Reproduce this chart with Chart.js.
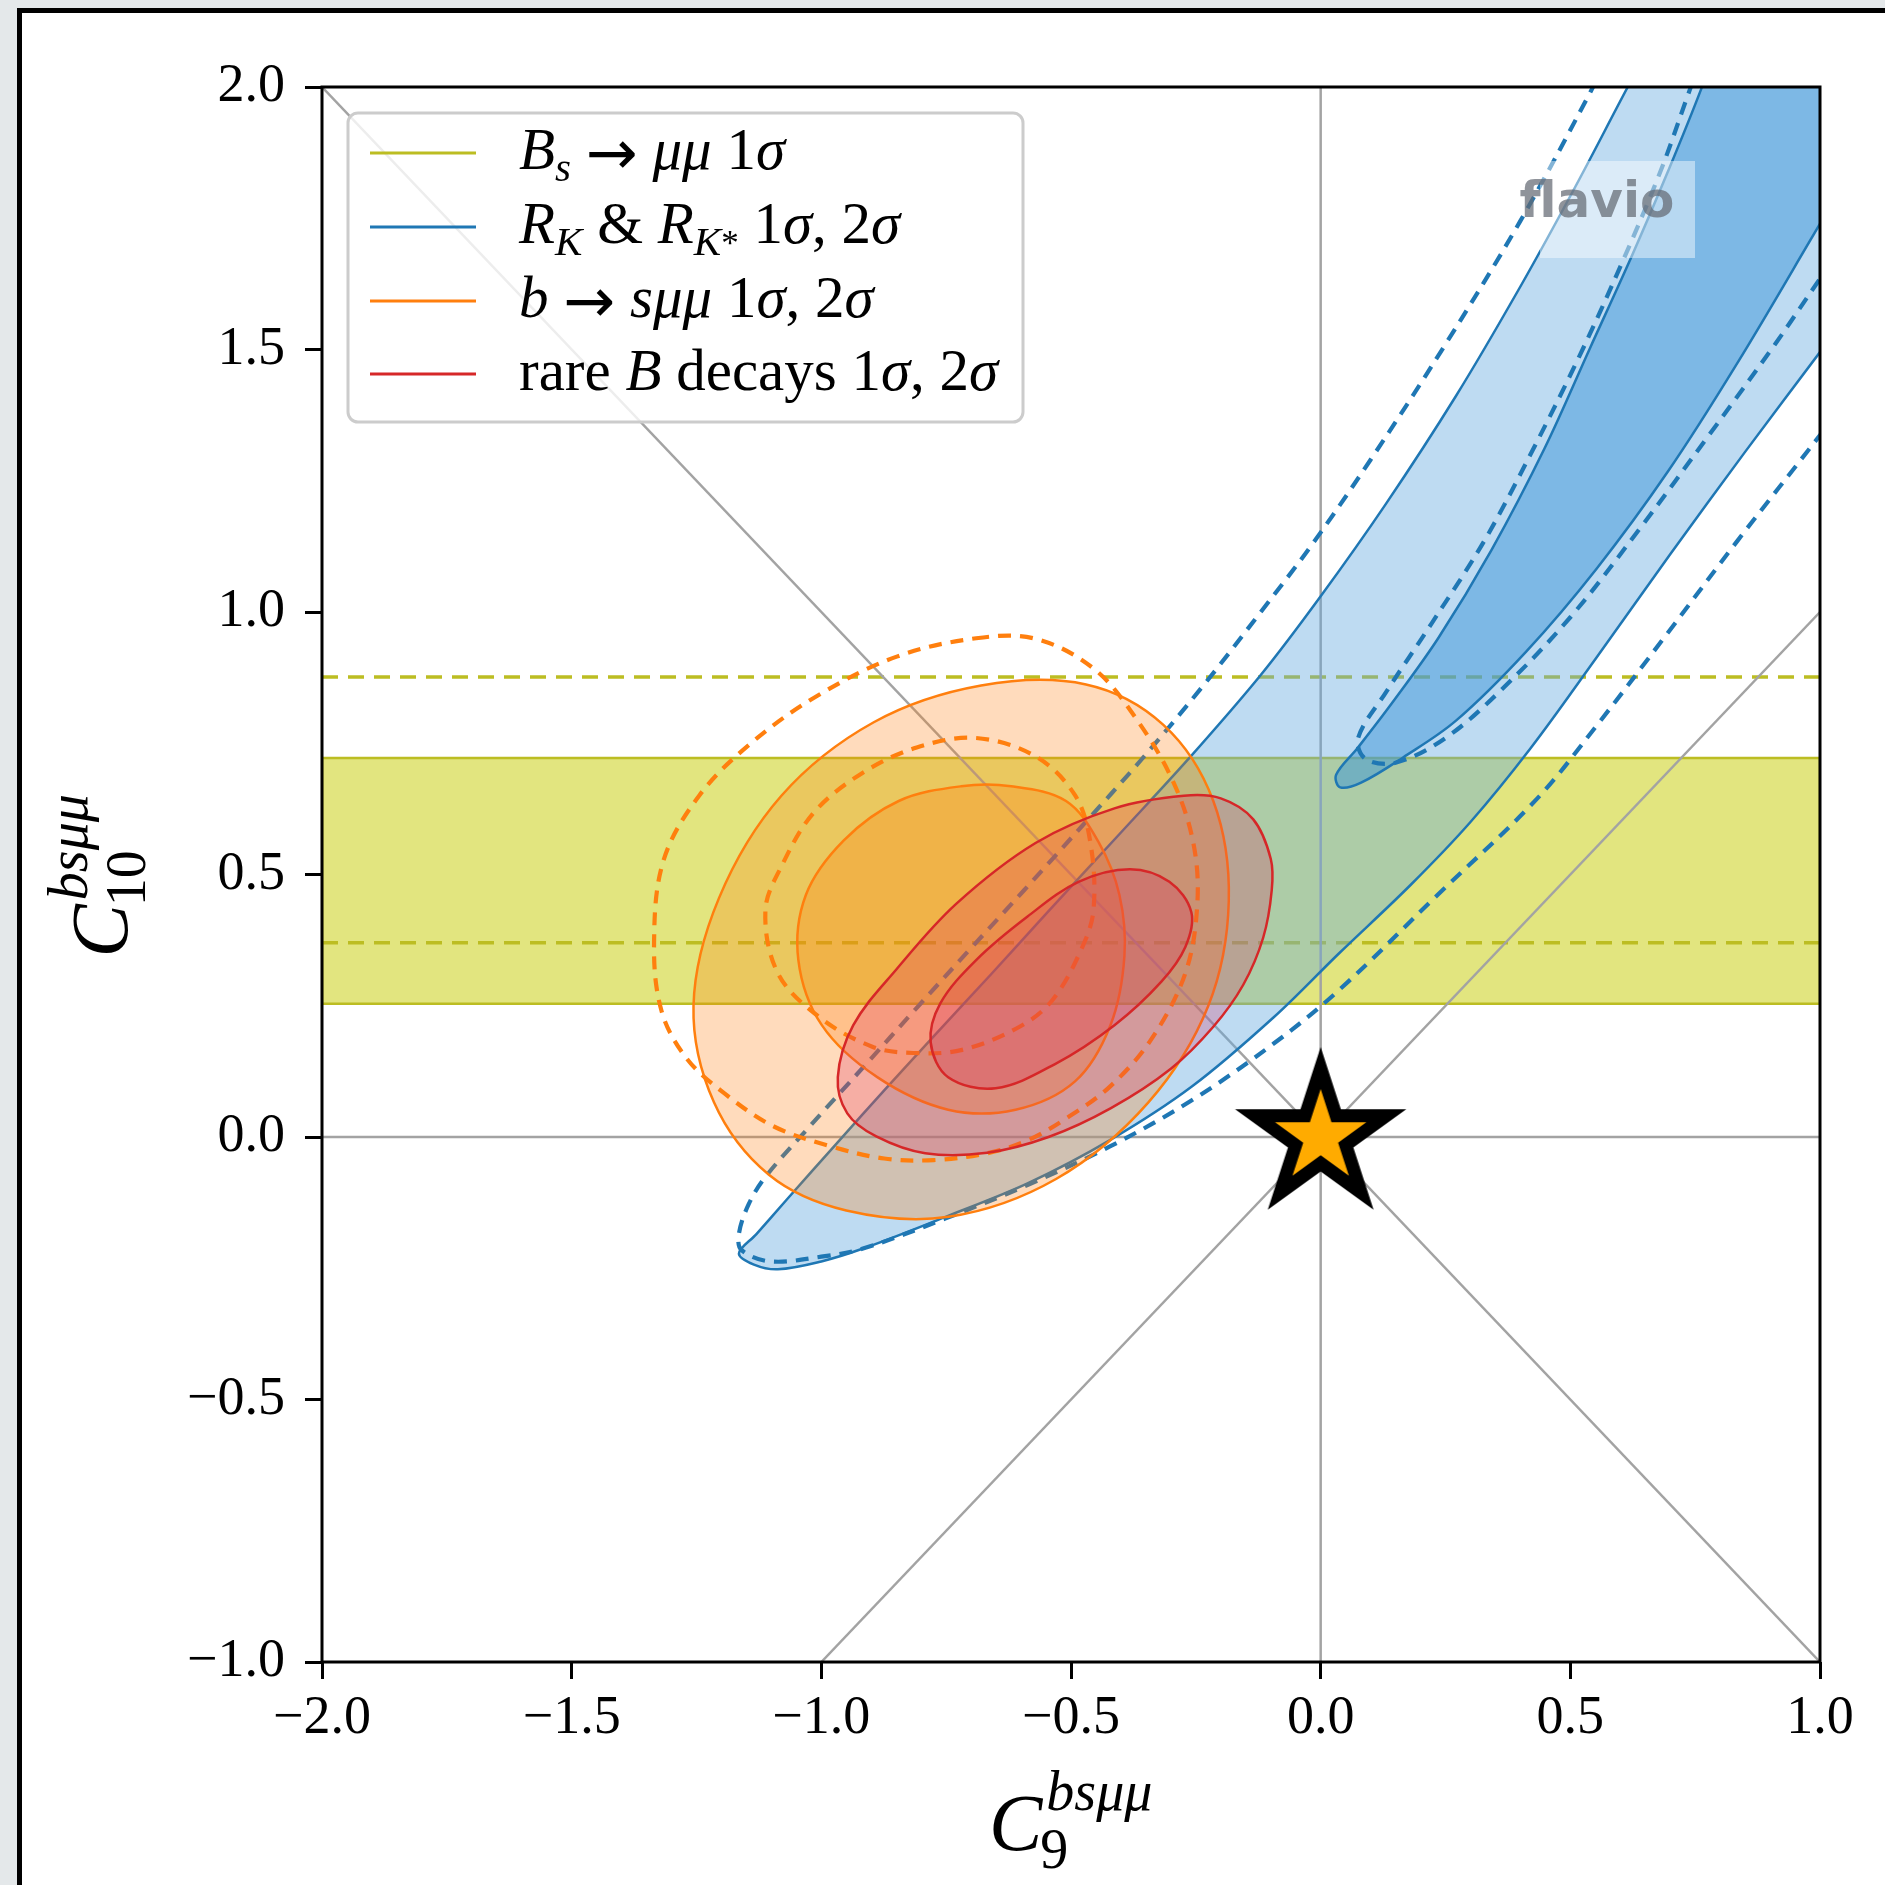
<!DOCTYPE html>
<html>
<head>
<meta charset="utf-8">
<script src="https://cdn.jsdelivr.net/npm/chart.js@4.4.1/dist/chart.umd.min.js"></script>
<style>
  html, body { margin: 0; padding: 0; background: #e4e8ea; overflow: hidden; }
  canvas { display: block; }
</style>
</head>
<body>
<canvas id="chart" width="1885" height="1885"></canvas>
<script>
// axis ticks
const xTicks = [-2, -1.5, -1, -0.5, 0, 0.5, 1];
const yTicks = [-1, -0.5, 0, 0.5, 1, 1.5, 2];

// Bs -> mumu : 1 sigma band (filled) and older band (dashed)
const bsmmBand = [0.254, 0.722];
const bsmmDashed = [0.370, 0.876];

// R_K & R_K* contours, [C9, C10]
const rk2Sigma = [
  [-1.165, -0.222], [-1.13, -0.185], [-1.07, -0.12], [-0.97, -0.013], [-0.87, 0.093],
  [-0.77, 0.197], [-0.66, 0.31], [-0.55, 0.425], [-0.40, 0.58], [-0.263, 0.722],
  [-0.12, 0.88], [0.0, 1.03], [0.13, 1.205], [0.27, 1.41], [0.40, 1.62],
  [0.51, 1.81], [0.615, 2.0], [0.70, 2.15], [1.3, 2.4], [1.1, 1.62],
  [1.0, 1.495], [0.85, 1.305], [0.70, 1.11], [0.55, 0.91], [0.42, 0.74],
  [0.30, 0.60], [0.18, 0.48], [0.037, 0.35], [-0.094, 0.228], [-0.258, 0.096],
  [-0.422, -0.006], [-0.586, -0.088], [-0.751, -0.152], [-0.915, -0.212], [-1.0, -0.237],
  [-1.087, -0.252], [-1.135, -0.243]
];
const rk1Sigma = [
  [0.039, 0.666], [0.031, 0.690], [0.074, 0.741], [0.144, 0.828], [0.236, 0.951],
  [0.342, 1.118], [0.448, 1.311], [0.540, 1.504], [0.624, 1.680], [0.695, 1.838],
  [0.762, 1.996], [0.84, 2.2], [1.35, 2.4], [1.1, 1.9], [1.001, 1.741],
  [0.835, 1.475], [0.695, 1.267], [0.553, 1.083], [0.412, 0.925], [0.271, 0.793],
  [0.165, 0.723], [0.081, 0.675]
];
const rkOld2Sigma = [
  [0.57, 2.05], [0.54, 1.99], [0.40, 1.745], [0.25, 1.51], [0.10, 1.29],
  [-0.02, 1.125], [-0.12, 1.0], [-0.235, 0.86], [-0.358, 0.72], [-0.48, 0.59],
  [-0.594, 0.47], [-0.70, 0.36], [-0.808, 0.247], [-0.915, 0.134], [-1.03, 0.013],
  [-1.112, -0.076], [-1.145, -0.127], [-1.165, -0.184], [-1.16, -0.215], [-1.103, -0.237],
  [-1.0, -0.228], [-0.915, -0.212], [-0.751, -0.155], [-0.586, -0.091], [-0.422, -0.018],
  [-0.258, 0.070], [-0.094, 0.178], [0.037, 0.280], [0.235, 0.462], [0.433, 0.644],
  [0.553, 0.784], [0.695, 0.960], [0.835, 1.136], [1.001, 1.338], [1.05, 1.40]
];
const rkOld1Sigma = [
  [0.76, 2.05], [0.733, 1.978], [0.68, 1.838], [0.602, 1.662], [0.518, 1.487],
  [0.426, 1.311], [0.328, 1.136], [0.222, 0.978], [0.13, 0.846], [0.075, 0.76],
  [0.09, 0.72], [0.15, 0.713], [0.25, 0.76], [0.36, 0.85], [0.5, 0.99],
  [0.64, 1.16], [0.78, 1.34], [0.91, 1.51], [1.001, 1.636], [1.05, 1.70]
];

// b -> s mumu contours
const bsmm2Sigma = [
  [-0.184, 0.450], [-0.215, 0.640], [-0.315, 0.785], [-0.47, 0.862], [-0.68, 0.860],
  [-0.895, 0.790], [-1.08, 0.650], [-1.205, 0.455], [-1.256, 0.250], [-1.215, 0.066],
  [-1.105, -0.072], [-0.95, -0.14], [-0.745, -0.152], [-0.53, -0.08], [-0.345, 0.066],
  [-0.225, 0.250]
];
const bsmm1Sigma = [
  [-0.62, 0.668], [-0.51, 0.640], [-0.445, 0.562], [-0.403, 0.461], [-0.393, 0.345],
  [-0.421, 0.213], [-0.492, 0.106], [-0.611, 0.052], [-0.746, 0.052], [-0.888, 0.114],
  [-0.999, 0.213], [-1.046, 0.337], [-1.031, 0.461], [-0.955, 0.565], [-0.845, 0.640],
  [-0.72, 0.668]
];
const bsmmOld2Sigma = [
  [-0.690, 0.950], [-0.571, 0.949], [-0.453, 0.891], [-0.366, 0.792], [-0.295, 0.676],
  [-0.255, 0.560], [-0.247, 0.444], [-0.271, 0.312], [-0.340, 0.185], [-0.422, 0.096],
  [-0.504, 0.039], [-0.586, -0.006], [-0.668, -0.031], [-0.775, -0.044], [-0.874, -0.041],
  [-0.980, -0.018], [-1.095, 0.020], [-1.194, 0.083], [-1.27, 0.15], [-1.32, 0.24],
  [-1.335, 0.370], [-1.316, 0.527], [-1.244, 0.651], [-1.141, 0.750], [-1.007, 0.841],
  [-0.849, 0.915]
];
const bsmmOld1Sigma = [
  [-0.690, 0.760], [-0.571, 0.725], [-0.492, 0.651], [-0.461, 0.560], [-0.455, 0.432],
  [-0.480, 0.356], [-0.537, 0.261], [-0.603, 0.210], [-0.718, 0.166], [-0.816, 0.160],
  [-0.898, 0.172], [-1.005, 0.229], [-1.087, 0.312], [-1.112, 0.432], [-1.078, 0.519],
  [-1.015, 0.618], [-0.920, 0.692], [-0.809, 0.742]
];

// all rare B decays combined
const rare2Sigma = [
  [-0.274, 0.650], [-0.20, 0.645], [-0.135, 0.605], [-0.10, 0.53], [-0.098, 0.47],
  [-0.115, 0.38], [-0.155, 0.29], [-0.215, 0.21], [-0.30, 0.13], [-0.42, 0.055],
  [-0.545, 0.0], [-0.668, -0.03], [-0.792, -0.031], [-0.890, 0.001], [-0.948, 0.045],
  [-0.967, 0.114], [-0.936, 0.213], [-0.849, 0.320], [-0.730, 0.444], [-0.571, 0.560],
  [-0.413, 0.626]
];
const rare1Sigma = [
  [-0.382, 0.510], [-0.303, 0.486], [-0.259, 0.428], [-0.271, 0.362], [-0.319, 0.296],
  [-0.413, 0.213], [-0.532, 0.139], [-0.651, 0.093], [-0.746, 0.114], [-0.781, 0.180],
  [-0.762, 0.254], [-0.690, 0.337], [-0.587, 0.420], [-0.485, 0.486]
];

// guide lines and SM point
const guideLines = [
  [[0, -1], [0, 2]],
  [[-2, 0], [1, 0]],
  [[-2, 2], [1, -1]],
  [[-1, -1], [1, 1]]
];
const smPoint = [0, 0];

const legendColors = ['#bcbd22', '#1f77b4', '#ff7f0e', '#d62728'];
const legendLabels = [
  [['B', 'i'], ['s', 'sub'], [' ', 'r'], ['\u2192', 'arr'], [' ', 'r'], ['\u03bc\u03bc', 'i'], [' 1', 'r'], ['\u03c3', 'i']],
  [['R', 'i'], ['K', 'sub'], [' & ', 'r'], ['R', 'i'], ['K', 'sub'], ['*', 'sup'], [' 1', 'r'], ['\u03c3', 'i'], [', 2', 'r'], ['\u03c3', 'i']],
  [['b', 'i'], [' ', 'r'], ['\u2192', 'arr'], [' ', 'r'], ['s\u03bc\u03bc', 'i'], [' 1', 'r'], ['\u03c3', 'i'], [', 2', 'r'], ['\u03c3', 'i']],
  [['rare ', 'r'], ['B', 'i'], [' decays 1', 'r'], ['\u03c3', 'i'], [', 2', 'r'], ['\u03c3', 'i']]
];

const SERIF = '"Liberation Serif"';
const pts = a => a.map(p => ({x: p[0], y: p[1]}));
const fmt = v => (v < 0 ? '\u2212' : '') + Math.abs(v).toFixed(1);

// star marker
const star = document.createElement('canvas');
star.width = star.height = 200;
(function () {
  const c = star.getContext('2d');
  const path = R => {
    c.beginPath();
    for (let i = 0; i < 10; i++) {
      const a = -Math.PI / 2 + i * Math.PI / 5;
      const r = i % 2 ? R * 0.382 : R;
      c.lineTo(100 + r * Math.cos(a), 100 + r * Math.sin(a));
    }
    c.closePath();
  };
  path(90); c.fillStyle = '#000'; c.fill();
  path(48); c.fillStyle = '#ffab00'; c.fill();
})();

function contour(data, color, fillColor, dashed, closed) {
  return {
    data: pts(data),
    borderColor: color,
    borderWidth: dashed ? 4.2 : 2.5,
    borderDash: dashed ? [13, 9] : [],
    backgroundColor: fillColor || 'transparent',
    fill: fillColor ? 'shape' : false,
    tension: 0.35,
    pointRadius: 0,
    closed: closed,
    clip: 0
  };
}

const datasets = [];
datasets.push({
  data: pts([[xTicks[0], bsmmBand[0]], [xTicks[6], bsmmBand[0]], [xTicks[6], bsmmBand[1]], [xTicks[0], bsmmBand[1]]]),
  borderColor: '#bcbd22', borderWidth: 2.5, backgroundColor: 'rgba(207,212,42,0.6)',
  fill: 'shape', tension: 0, pointRadius: 0, closed: true, clip: 0
});
bsmmDashed.forEach(v => datasets.push({
  data: pts([[xTicks[0], v], [xTicks[6], v]]),
  borderColor: '#bcbd22', borderWidth: 3.5, borderDash: [16, 10], fill: false, pointRadius: 0, clip: 0
}));
guideLines.forEach(l => datasets.push({
  data: pts(l), borderColor: '#a3a3a3', borderWidth: 2.5, fill: false, pointRadius: 0, tension: 0, clip: 0
}));
datasets.push(contour(rk2Sigma, '#1f77b4', 'rgba(100,170,225,0.42)', false, true));
datasets.push(contour(rk1Sigma, '#1f77b4', 'rgba(60,150,215,0.5)', false, true));
datasets.push(contour(rkOld2Sigma, '#1f77b4', null, true, false));
datasets.push(contour(rkOld1Sigma, '#1f77b4', null, true, false));
datasets.push(contour(bsmm2Sigma, '#ff7f0e', 'rgba(255,127,14,0.28)', false, true));
datasets.push(contour(bsmm1Sigma, '#ff7f0e', 'rgba(255,127,14,0.28)', false, true));
datasets.push(contour(bsmmOld2Sigma, '#ff7f0e', null, true, true));
datasets.push(contour(bsmmOld1Sigma, '#ff7f0e', null, true, true));
datasets.push(contour(rare2Sigma, '#d62728', 'rgba(220,40,90,0.25)', false, true));
datasets.push(contour(rare1Sigma, '#d62728', 'rgba(220,40,90,0.25)', false, true));
datasets.push({
  data: pts([smPoint]), showLine: false, pointStyle: star, pointRadius: 20, clip: false
});
// first in list = drawn first
datasets.forEach((d, i) => { d.order = datasets.length - i; });

// make closed contours real loops
const closeLoops = {
  id: 'closeLoops',
  afterDatasetUpdate(chart, args) {
    const ds = chart.data.datasets[args.index];
    const line = args.meta.dataset;
    if (ds.closed && line) {
      line._loop = true;
      line._fullLoop = true;
      line._pointsUpdated = false;
      delete line._segments;
      delete line._path;
    }
  }
};

const pageFrame = {
  id: 'pageFrame',
  beforeDraw(chart) {
    const {ctx, width, height} = chart;
    ctx.save();
    ctx.fillStyle = '#e4e8ea';
    ctx.fillRect(0, 0, width, height);
    ctx.fillStyle = '#ffffff';
    ctx.fillRect(22, 13, width - 22, height - 13);
    ctx.fillStyle = '#000000';
    ctx.fillRect(17, 8, 5, height - 8);
    ctx.fillRect(17, 8, width - 17, 5);
    ctx.restore();
  },
  afterDatasetsDraw(chart) {
    const {ctx, chartArea: a} = chart;
    ctx.save();
    ctx.strokeStyle = '#000';
    ctx.lineWidth = 3;
    ctx.strokeRect(a.left, a.top, a.right - a.left, a.bottom - a.top);
    ctx.restore();
  }
};

function drawRuns(ctx, runs, x, y, size) {
  const st = {
    r: [`${size}px ${SERIF}`, 0],
    i: [`italic ${size}px ${SERIF}`, 0],
    sub: [`italic ${Math.round(size * 0.7)}px ${SERIF}`, size * 0.2],
    sup: [`${Math.round(size * 0.6)}px ${SERIF}`, size * 0.2],
    arr: [`${Math.round(size * 1.05)}px "DejaVu Sans"`, size * 0.08]
  };
  for (const [t, s] of runs) {
    ctx.font = st[s][0];
    ctx.fillText(t, x, y + st[s][1]);
    x += ctx.measureText(t).width;
  }
  return x;
}

function drawAxisLabel(ctx, sub) {
  // C_sub^{bs mu mu}, drawn from (0,0) on baseline
  ctx.font = `italic 80px ${SERIF}`;
  ctx.fillText('C', 0, 0);
  const w = ctx.measureText('C').width;
  ctx.font = `italic 56px ${SERIF}`;
  ctx.fillText('bs\u03bc\u03bc', w + 4, -40);
  const ws = ctx.measureText('bs\u03bc\u03bc').width;
  ctx.font = `56px ${SERIF}`;
  ctx.fillText(sub, w - 2, 18);
  return w + 4 + ws;
}

const overlay = {
  id: 'overlay',
  afterDraw(chart) {
    const {ctx, chartArea: a} = chart;
    ctx.save();
    // legend box
    const bx = 348, by = 113, bw = 675, bh = 309;
    ctx.beginPath();
    ctx.roundRect(bx, by, bw, bh, 10);
    ctx.fillStyle = 'rgba(255,255,255,0.8)';
    ctx.fill();
    ctx.strokeStyle = '#cccccc';
    ctx.lineWidth = 3;
    ctx.stroke();
    const rows = [153, 227, 301, 374];
    legendLabels.forEach((runs, i) => {
      ctx.strokeStyle = legendColors[i];
      ctx.lineWidth = 3;
      ctx.beginPath();
      ctx.moveTo(370, rows[i]);
      ctx.lineTo(476, rows[i]);
      ctx.stroke();
      ctx.fillStyle = '#000';
      ctx.textBaseline = 'alphabetic';
      ctx.textAlign = 'left';
      drawRuns(ctx, runs, 519, rows[i] + 16, 59);
    });

    // flavio watermark
    ctx.fillStyle = 'rgba(255,255,255,0.45)';
    ctx.fillRect(1540, 161, 155, 97);
    ctx.font = 'bold 50px "DejaVu Sans"';
    ctx.textAlign = 'center';
    ctx.fillStyle = 'rgba(100,105,115,0.72)';
    ctx.fillText('flavio', 1597, 217);

    // axis titles
    ctx.fillStyle = '#000';
    ctx.textAlign = 'left';
    const cx = (a.left + a.right) / 2;
    ctx.save();
    ctx.translate(cx - 82, 1850);
    drawAxisLabel(ctx, '9');
    ctx.restore();
    const cy = (a.top + a.bottom) / 2;
    ctx.save();
    ctx.translate(127, cy + 83);
    ctx.rotate(-Math.PI / 2);
    drawAxisLabel(ctx, '10');
    ctx.restore();
    ctx.restore();
  }
};

const tickFont = {family: 'Liberation Serif', size: 54};

new Chart(document.getElementById('chart').getContext('2d'), {
  type: 'line',
  data: {datasets: datasets},
  options: {
    responsive: false,
    devicePixelRatio: 1,
    animation: false,
    events: [],
    layout: {padding: {left: 0, top: 87, right: 65, bottom: 0}},
    elements: {line: {capBezierPoints: false}},
    plugins: {legend: {display: false}, tooltip: {enabled: false}},
    scales: {
      x: {
        type: 'linear', min: -2, max: 1,
        afterBuildTicks: s => { s.ticks = xTicks.map(v => ({value: v})); },
        afterFit: s => { s.height = 223; },
        ticks: {callback: fmt, font: tickFont, color: '#000', padding: 7, maxRotation: 0, autoSkip: false},
        grid: {display: true, drawOnChartArea: false, drawTicks: true, tickLength: 17, tickWidth: 3, tickColor: '#000'},
        border: {display: false}
      },
      y: {
        type: 'linear', min: -1, max: 2,
        afterBuildTicks: s => { s.ticks = yTicks.map(v => ({value: v})); },
        afterFit: s => { s.width = 322; },
        ticks: {callback: fmt, font: tickFont, color: '#000', padding: 20, autoSkip: false},
        grid: {display: true, drawOnChartArea: false, drawTicks: true, tickLength: 17, tickWidth: 3, tickColor: '#000'},
        border: {display: false}
      }
    }
  },
  plugins: [closeLoops, pageFrame, overlay]
});
</script>
</body>
</html>
